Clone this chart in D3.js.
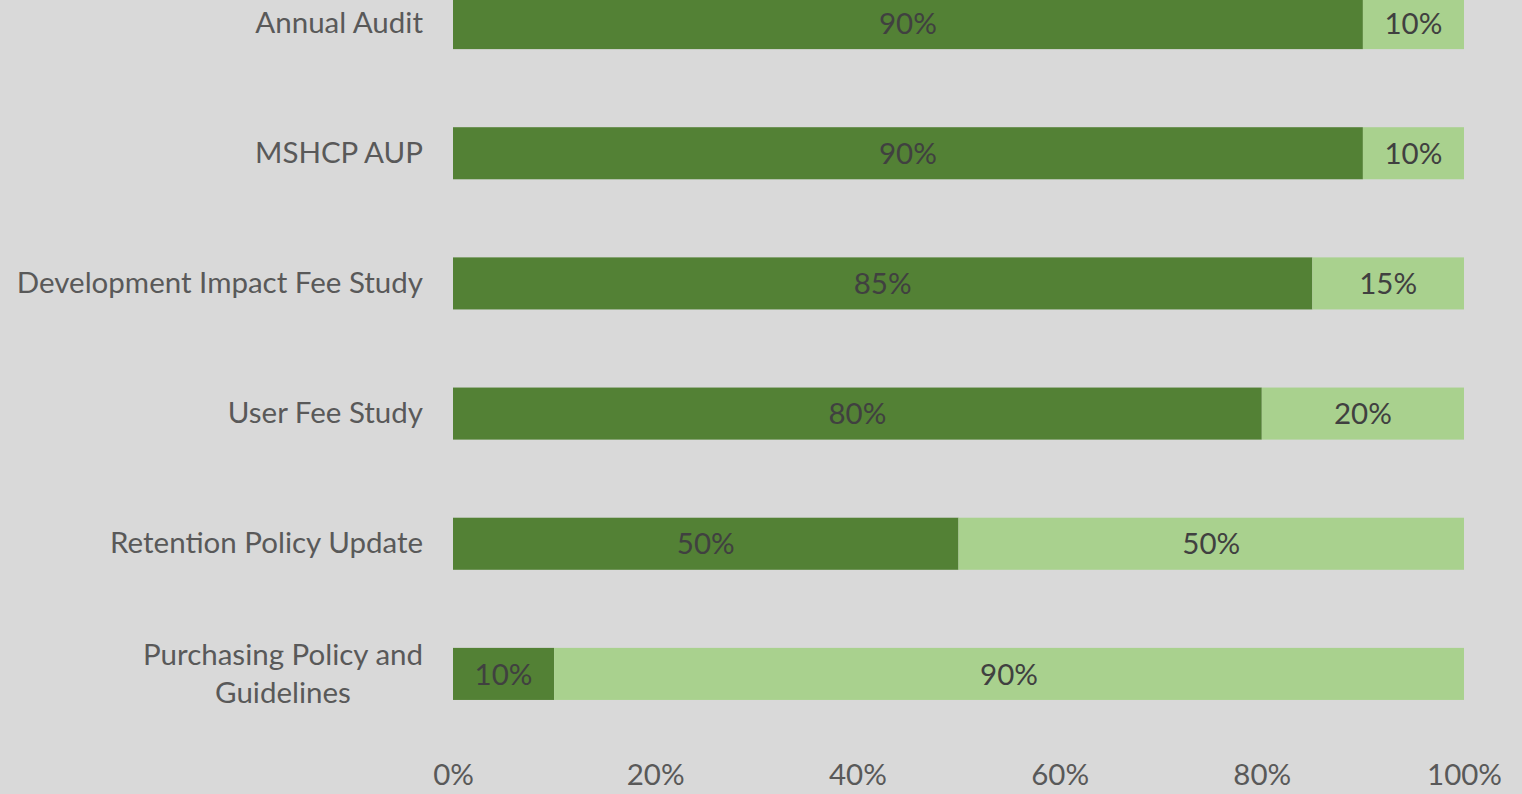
<!DOCTYPE html>
<html>
<head>
<meta charset="utf-8">
<script src="https://cdn.jsdelivr.net/npm/d3@7"></script>
<style>
  html, body { margin: 0; padding: 0; background: #D9D9D9; overflow: hidden; }
  svg { display: block; }
  text { font-family: Lato, "Open Sans", sans-serif; }
</style>
</head>
<body>
<script>
// Chart data
var categories = [
  "Annual Audit",
  "MSHCP AUP",
  "Development Impact Fee Study",
  "User Fee Study",
  "Retention Policy Update",
  "Purchasing Policy and Guidelines"
];
var completeValues = [90, 90, 85, 80, 50, 10];
var remainingValues = [10, 10, 15, 20, 50, 90];
var xTicks = [0, 20, 40, 60, 80, 100];

// SVG area
var svgWidth = 1522;
var svgHeight = 794;
var fontSize = 29.5;

var svg = d3.select("body")
  .append("svg")
  .attr("width", svgWidth)
  .attr("height", svgHeight);

svg.append("rect")
  .attr("width", svgWidth)
  .attr("height", svgHeight)
  .attr("fill", "#D9D9D9");

// Scales
var xScale = d3.scaleLinear().domain([0, 100]).range([453, 1464]);
var yScale = d3.scaleBand()
  .domain(categories)
  .range([-42, 739])
  .paddingInner(0.6)
  .paddingOuter(0.3);

// Stack the two series
var rows = categories.map(function (c, i) {
  return { category: c, complete: completeValues[i], remaining: remainingValues[i] };
});
var stack = d3.stack().keys(["complete", "remaining"]);
var series = stack(rows);
var colors = { complete: "#538135", remaining: "#A9D18E" };

var chartGroup = svg.append("g");

series.forEach(function (s) {
  var g = chartGroup.append("g");
  g.selectAll("rect")
    .data(s)
    .enter()
    .append("rect")
    .attr("x", function (d) { return xScale(d[0]); })
    .attr("y", function (d) { return yScale(d.data.category); })
    .attr("width", function (d) { return xScale(d[1]) - xScale(d[0]); })
    .attr("height", yScale.bandwidth())
    .attr("fill", colors[s.key]);

  g.selectAll("text")
    .data(s)
    .enter()
    .append("text")
    .attr("x", function (d) { return (xScale(d[0]) + xScale(d[1])) / 2; })
    .attr("y", function (d) { return yScale(d.data.category) + yScale.bandwidth() / 2; })
    .attr("dy", "0.36em")
    .attr("text-anchor", "middle")
    .attr("font-size", fontSize)
    .attr("fill", "#404040")
    .text(function (d) { return (d[1] - d[0]) + "%"; });
});

// Category axis (labels only, no line)
var leftAxis = d3.axisLeft(yScale).tickSize(0).tickPadding(30);
var yAxisGroup = svg.append("g")
  .attr("transform", "translate(" + xScale(0) + ",0)")
  .call(leftAxis);
yAxisGroup.select(".domain").remove();
yAxisGroup.selectAll("text")
  .attr("font-size", fontSize)
  .attr("font-family", "Lato, 'Open Sans', sans-serif")
  .attr("fill", "#595959");

// Wrap the long category into two centred lines
yAxisGroup.selectAll(".tick text").each(function (d) {
  if (d === "Purchasing Policy and Guidelines") {
    var t = d3.select(this);
    t.text(null).attr("text-anchor", "middle").attr("x", -170).attr("dy", null);
    t.append("tspan").attr("x", -170).attr("dy", "-0.3em").text("Purchasing Policy and");
    t.append("tspan").attr("x", -170).attr("dy", "1.27em").text("Guidelines");
  }
});

// Percent axis
var bottomAxis = d3.axisBottom(xScale)
  .tickValues(xTicks)
  .tickSize(0)
  .tickPadding(0)
  .tickFormat(function (d) { return d + "%"; });
var xAxisGroup = svg.append("g")
  .attr("transform", "translate(0,764)")
  .call(bottomAxis);
xAxisGroup.select(".domain").remove();
xAxisGroup.selectAll("text")
  .attr("font-size", fontSize)
  .attr("font-family", "Lato, 'Open Sans', sans-serif")
  .attr("fill", "#595959");
</script>
</body>
</html>
